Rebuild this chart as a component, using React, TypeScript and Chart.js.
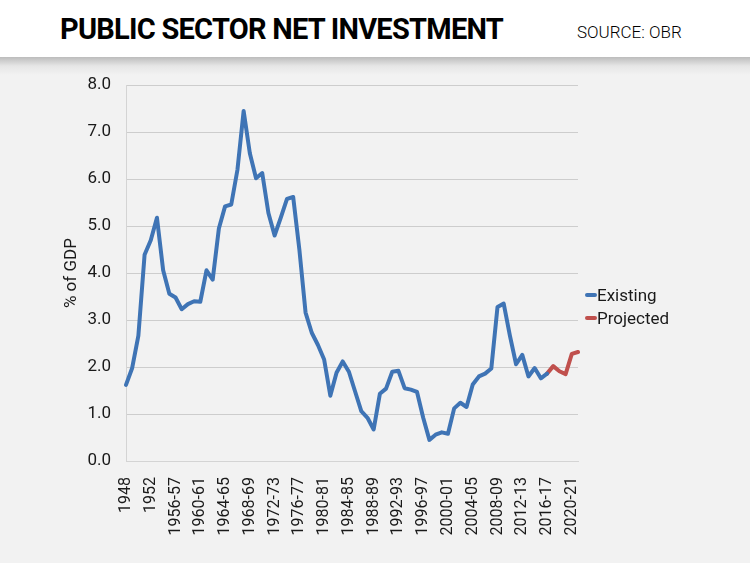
import React, { useEffect, useRef } from "react";
import { Chart, registerables } from "chart.js";

Chart.register(...registerables);

const categories: string[] = [
  "1948", "1949", "1950", "1951", "1952", "1953", "1954", "1955-56", "1956-57", "1957-58",
  "1958-59", "1959-60", "1960-61", "1961-62", "1962-63", "1963-64", "1964-65", "1965-66", "1966-67", "1967-68",
  "1968-69", "1969-70", "1970-71", "1971-72", "1972-73", "1973-74", "1974-75", "1975-76", "1976-77", "1977-78",
  "1978-79", "1979-80", "1980-81", "1981-82", "1982-83", "1983-84", "1984-85", "1985-86", "1986-87", "1987-88",
  "1988-89", "1989-90", "1990-91", "1991-92", "1992-93", "1993-94", "1994-95", "1995-96", "1996-97", "1997-98",
  "1998-99", "1999-00", "2000-01", "2001-02", "2002-03", "2003-04", "2004-05", "2005-06", "2006-07", "2007-08",
  "2008-09", "2009-10", "2010-11", "2011-12", "2012-13", "2013-14", "2014-15", "2015-16", "2016-17", "2017-18",
  "2018-19", "2019-20", "2020-21", "2021-22",
];

const existing: (number | null)[] = [
  1.62, 1.98, 2.67, 4.39, 4.70, 5.18, 4.06, 3.56, 3.48, 3.23,
  3.34, 3.40, 3.39, 4.06, 3.86, 4.95, 5.42, 5.46, 6.20, 7.45,
  6.55, 6.02, 6.13, 5.28, 4.80, 5.18, 5.58, 5.62, 4.50, 3.16,
  2.73, 2.47, 2.16, 1.39, 1.88, 2.12, 1.90, 1.48, 1.06, 0.92,
  0.67, 1.43, 1.54, 1.90, 1.92, 1.55, 1.52, 1.47, 0.92, 0.45,
  0.56, 0.61, 0.58, 1.12, 1.24, 1.15, 1.63, 1.80, 1.86, 1.97,
  3.28, 3.35, 2.67, 2.06, 2.26, 1.80, 1.98, 1.76, 1.86, null,
  null, null, null, null,
];

const projected: (number | null)[] = [
  null, null, null, null, null, null, null, null, null, null,
  null, null, null, null, null, null, null, null, null, null,
  null, null, null, null, null, null, null, null, null, null,
  null, null, null, null, null, null, null, null, null, null,
  null, null, null, null, null, null, null, null, null, null,
  null, null, null, null, null, null, null, null, null, null,
  null, null, null, null, null, null, null, null, 1.86, 2.02,
  1.91, 1.85, 2.28, 2.32,
];

const seriesNames = ["Existing", "Projected"];
const seriesColors = ["#3F74B5", "#C0504D"];

export default function App() {
  const canvasRef = useRef<HTMLCanvasElement | null>(null);

  useEffect(() => {
    document.body.style.margin = "0";
    const canvas = canvasRef.current;
    if (!canvas) return;
    const chart = new Chart(canvas, {
      type: "line",
      data: {
        labels: categories,
        datasets: [
          {
            label: seriesNames[0],
            data: existing,
            borderColor: seriesColors[0],
            backgroundColor: seriesColors[0],
            borderWidth: 4,
            pointRadius: 0,
            tension: 0,
            borderJoinStyle: "round",
            borderCapStyle: "round",
            spanGaps: false,
          },
          {
            label: seriesNames[1],
            data: projected,
            borderColor: seriesColors[1],
            backgroundColor: seriesColors[1],
            borderWidth: 4,
            pointRadius: 0,
            tension: 0,
            borderJoinStyle: "round",
            borderCapStyle: "round",
            spanGaps: false,
          },
        ],
      },
      options: {
        responsive: false,
        animation: false,
        layout: { padding: { left: 0, right: 172, top: 18, bottom: 0 } },
        plugins: {
          legend: { display: false },
          tooltip: { enabled: false },
        },
        scales: {
          x: {
            grid: { display: false },
            border: { display: true, color: "#d4d4d4", width: 1 },
            ticks: {
              autoSkip: false,
              maxRotation: 90,
              minRotation: 90,
              padding: 8,
              color: "#1a1a1a",
              font: { family: "Roboto", size: 16 },
              callback: (_v: any, i: number) => (i % 4 === 0 ? categories[i] : ""),
            },
            afterFit: (scale: any) => {
              scale.height = 102;
            },
          },
          y: {
            min: 0,
            max: 8,
            grid: { color: "#cdcdcd", lineWidth: 1, drawTicks: false },
            border: { display: true, color: "#d4d4d4", width: 1 },
            ticks: {
              stepSize: 1,
              padding: 15,
              color: "#1a1a1a",
              font: { family: "Roboto", size: 17 },
              callback: (v: any) => Number(v).toFixed(1),
            },
            title: {
              display: true,
              text: "% of GDP",
              color: "#1a1a1a",
              font: { family: "Roboto", size: 17 },
              padding: { top: 62, bottom: 0 },
            },
            afterFit: (scale: any) => {
              scale.width = 126;
            },
          },
        },
      },
    });
    return () => chart.destroy();
  }, []);

  const legendItem = (name: string, color: string, top: number) => (
    <div
      key={name}
      style={{
        position: "absolute",
        left: 585,
        top,
        display: "flex",
        alignItems: "center",
        height: 20,
        fontFamily: "Roboto",
        fontSize: 17,
        color: "#1a1a1a",
      }}
    >
      <span
        style={{
          display: "inline-block",
          width: 12,
          height: 4,
          borderRadius: 2,
          background: color,
          marginRight: 0,
        }}
      />
      <span>{name}</span>
    </div>
  );

  return (
    <div
      style={{
        position: "relative",
        width: 750,
        height: 563,
        background: "#f2f2f2",
        overflow: "hidden",
      }}
    >
      <div
        style={{
          position: "absolute",
          left: 0,
          top: 0,
          width: 750,
          height: 57,
          background: "#ffffff",
        }}
      />
      <div
        style={{
          position: "absolute",
          left: 0,
          top: 57,
          width: 750,
          height: 18,
          background: "linear-gradient(#bcbcbc, #e6e6e6 50%, #f2f2f2)",
        }}
      />
      <div
        style={{
          position: "absolute",
          left: 60,
          top: 14,
          fontFamily: "Roboto",
          fontWeight: 700,
          fontSize: 29,
          lineHeight: "30px",
          letterSpacing: "-0.75px",
          color: "#000",
          whiteSpace: "nowrap",
        }}
      >
        PUBLIC SECTOR NET INVESTMENT
      </div>
      <div
        style={{
          position: "absolute",
          left: 577,
          top: 22,
          fontFamily: "Roboto",
          fontWeight: 300,
          fontSize: 17,
          lineHeight: "20px",
          color: "#000",
          whiteSpace: "nowrap",
        }}
      >
        SOURCE: OBR
      </div>
      <canvas
        ref={canvasRef}
        width={750}
        height={503}
        style={{ position: "absolute", left: 0, top: 60, width: 750, height: 503 }}
      />
      {legendItem(seriesNames[0], seriesColors[0], 285)}
      {legendItem(seriesNames[1], seriesColors[1], 308)}
    </div>
  );
}
